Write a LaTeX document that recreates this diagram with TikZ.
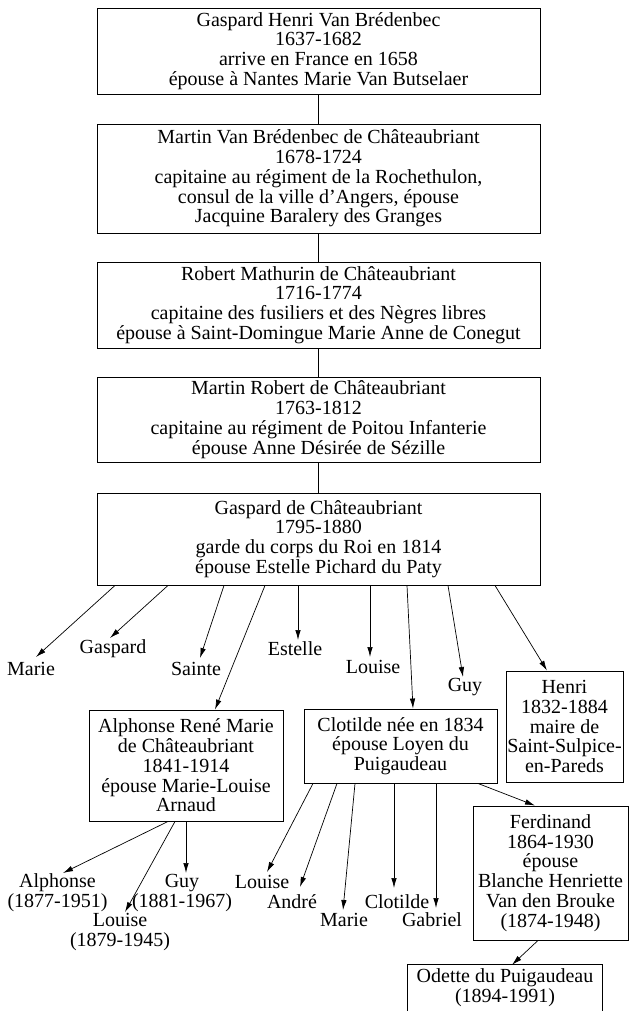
\documentclass[tikz,border=0pt]{standalone}
\usepackage{fontspec}
\setmainfont{Liberation Serif}
\usetikzlibrary{arrows.meta}
\newcommand\diagfont{\fontsize{20}{19.8}\selectfont}
\begin{document}
\begin{tikzpicture}[x=1pt,y=-1pt,
  box/.style={draw, line width=0.9pt, inner sep=0pt, align=center, font=\diagfont},
  lbl/.style={inner sep=0pt, align=center, font=\diagfont},
  link/.style={line width=0.9pt},
  arr/.style={line width=0.7pt, -{Latex[length=10pt,width=5.5pt]}}
]
\useasboundingbox (0,0) rectangle (630,1011);

% main line
\node[box, minimum width=443, minimum height=86] (g1) at (318.5,51)
  {Gaspard Henri Van Brédenbec\\1637-1682\\arrive en France en 1658\\épouse à Nantes Marie Van Butselaer};
\node[box, minimum width=443, minimum height=109] (g2) at (318.5,178.5)
  {Martin Van Brédenbec de Châteaubriant\\1678-1724\\capitaine au régiment de la Rochethulon,\\consul de la ville d'Angers, épouse\\Jacquine Baralery des Granges};
\node[box, minimum width=443, minimum height=86] (g3) at (318.5,305)
  {Robert Mathurin de Châteaubriant\\1716-1774\\capitaine des fusiliers et des Nègres libres\\épouse à Saint-Domingue Marie Anne de Conegut};
\node[box, minimum width=443, minimum height=85] (g4) at (318.5,419.5)
  {Martin Robert de Châteaubriant\\1763-1812\\capitaine au régiment de Poitou Infanterie\\épouse Anne Désirée de Sézille};
\node[box, minimum width=443, minimum height=92] (g5) at (318.5,539)
  {Gaspard de Châteaubriant\\1795-1880\\garde du corps du Roi en 1814\\épouse Estelle Pichard du Paty};

\draw[link] (g1.south) -- (g2.north);
\draw[link] (g2.south) -- (g3.north);
\draw[link] (g3.south) -- (g4.north);
\draw[link] (g4.south) -- (g5.north);

% children of Gaspard
\node[lbl] (marie) at (31,669) {Marie};
\node[lbl] (gaspard) at (113,649) {Gaspard};
\node[lbl] (sainte) at (196,669) {Sainte};
\node[lbl] (estelle) at (295,649) {Estelle};
\node[lbl] (louise) at (373,667) {Louise};
\node[lbl] (guy) at (465,687) {Guy};

\node[box, minimum width=194, minimum height=111] (alph) at (186,765.5)
  {Alphonse René Marie\\de Châteaubriant\\1841-1914\\épouse Marie-Louise\\Arnaud};
\node[box, minimum width=193, minimum height=74] (clot) at (400.5,746)
  {Clotilde née en 1834\\épouse Loyen du\\Puigaudeau};
\node[box, minimum width=117, minimum height=111] (henri) at (564.5,726.5)
  {Henri\\1832-1884\\maire de\\Saint-Sulpice-\\en-Pareds};

\draw[arr] ([shift={(-203.5,0)}]g5.south) -- ([shift={(5,-12)}]marie.center);
\draw[arr] ([shift={(-150.5,0)}]g5.south) -- ([shift={(-3,-11)}]gaspard.center);
\draw[arr] ([shift={(-94.5,0)}]g5.south) -- ([shift={(4,-11)}]sainte.center);
\draw[arr] ([shift={(-53.5,0)}]g5.south) -- ([shift={(29,0)}]alph.north);
\draw[arr] ([shift={(-20.5,0)}]g5.south) -- ([shift={(3,-9)}]estelle.center);
\draw[arr] ([shift={(51.5,0)}]g5.south) -- ([shift={(-3,-10)}]louise.center);
\draw[arr] ([shift={(88.5,0)}]g5.south) -- ([shift={(12.5,0)}]clot.north);
\draw[arr] ([shift={(129.5,0)}]g5.south) -- ([shift={(-2,-10)}]guy.center);
\draw[arr] ([shift={(176.5,0)}]g5.south) -- ([shift={(-17.5,0)}]henri.north);

% children of Alphonse
\node[lbl] (alphonse) at (57.5,893) {Alphonse\\(1877-1951)};
\node[lbl] (guyb) at (182,893) {Guy\\(1881-1967)};
\node[lbl] (louisec) at (120,932) {Louise\\(1879-1945)};

\draw[arr] ([shift={(-18,0)}]alph.south) -- ([shift={(5.5,-20)}]alphonse.center);
\draw[arr] ([shift={(-11,0)}]alph.south) -- ([shift={(5,-20)}]louisec.center);
\draw[arr] ([shift={(0,0)}]alph.south) -- ([shift={(4,-20)}]guyb.center);

% children of Clotilde
\node[lbl] (louiseb) at (262,882) {Louise};
\node[lbl] (andre) at (292,902) {André};
\node[lbl] (marieb) at (344,920) {Marie};
\node[lbl] (clotb) at (397,902) {Clotilde};
\node[lbl] (gabriel) at (432,920) {Gabriel};

\node[box, minimum width=155, minimum height=134] (ferd) at (550.5,873)
  {Ferdinand\\1864-1930\\épouse\\Blanche Henriette\\Van den Brouke\\(1874-1948)};
\node[lbl, minimum width=194, minimum height=46] (odette) at (505,988)
  {Odette du Puigaudeau\\(1894-1991)};
\draw[line width=0.9pt] (odette.south west) |- (odette.north east) -- (odette.south east);

\draw[arr] ([shift={(-87.5,0)}]clot.south) -- ([shift={(5,-10)}]louiseb.center);
\draw[arr] ([shift={(-63.5,0)}]clot.south) -- ([shift={(8,-15)}]andre.center);
\draw[arr] ([shift={(-45.5,0)}]clot.south) -- ([shift={(-1,-10)}]marieb.center);
\draw[arr] ([shift={(-6.5,0)}]clot.south) -- ([shift={(-3,-14)}]clotb.center);
\draw[arr] ([shift={(35.5,0)}]clot.south) -- ([shift={(4,-12)}]gabriel.center);
\draw[arr] ([shift={(77.5,0)}]clot.south) -- ([shift={(-15.5,0)}]ferd.north);
\draw[arr] ([shift={(-12.5,0)}]ferd.south) -- ([shift={(7,0)}]odette.north);
\end{tikzpicture}
\end{document}
